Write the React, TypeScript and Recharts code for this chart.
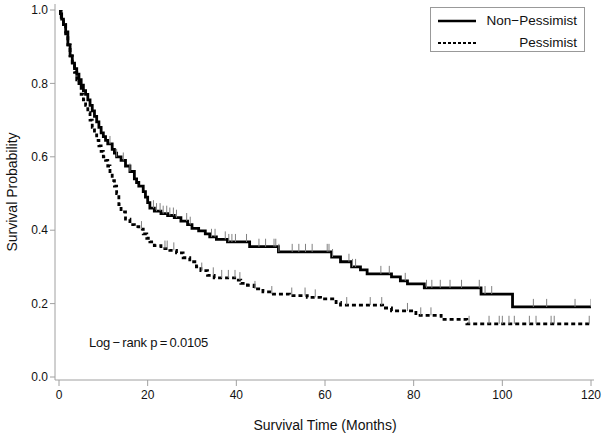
import React from 'react';
import { ComposedChart, Line, Scatter, XAxis, YAxis } from 'recharts';

const xTicks = [0, 20, 40, 60, 80, 100, 120];
const yTicks = [0, 0.2, 0.4, 0.6, 0.8, 1.0];

const nonPessimistTimes = [0, 0.3, 0.6, 1, 1.5, 2, 2.5, 3, 3.5, 4, 4.5, 5, 5.5, 6, 6.5, 7, 7.5, 8, 8.5, 9, 9.5, 10, 10.5, 11, 12, 12.5, 13, 14, 15, 16, 17, 17.5, 18, 19, 19.5, 20, 20.5, 21.5, 23, 24.5, 26, 27.5, 29, 30, 31.5, 33, 34, 35.5, 38, 43, 49.5, 61.5, 63.5, 66, 68, 69.5, 75, 77, 78.6, 82.4, 95.2, 102.3, 120];
const nonPessimistSurv = [1.0, 0.99, 0.975, 0.96, 0.94, 0.905, 0.875, 0.855, 0.84, 0.825, 0.81, 0.795, 0.78, 0.77, 0.755, 0.74, 0.725, 0.71, 0.695, 0.68, 0.665, 0.655, 0.645, 0.635, 0.62, 0.61, 0.6, 0.59, 0.575, 0.56, 0.54, 0.53, 0.52, 0.505, 0.49, 0.475, 0.46, 0.452, 0.445, 0.44, 0.434, 0.425, 0.415, 0.405, 0.398, 0.39, 0.382, 0.375, 0.368, 0.355, 0.341, 0.327, 0.314, 0.3, 0.292, 0.281, 0.273, 0.262, 0.254, 0.243, 0.226, 0.191, 0.191];

const pessimistTimes = [0, 0.5, 1, 1.5, 2, 2.5, 3, 3.5, 4, 4.5, 5, 5.5, 6, 6.5, 7, 7.5, 8, 8.5, 9, 9.5, 10, 10.5, 11, 11.5, 12, 12.5, 13, 13.5, 14, 15, 16, 17, 18, 19, 19.8, 20.5, 21.5, 23, 25, 26.5, 28, 29.5, 31, 32, 33.5, 35, 40, 41, 42.5, 44, 46, 48, 52, 56, 59, 62.5, 63.5, 73, 75, 80.5, 86.2, 92, 120];
const pessimistSurv = [1.0, 0.98, 0.96, 0.935, 0.905, 0.875, 0.85, 0.83, 0.81, 0.79, 0.77, 0.755, 0.74, 0.72, 0.7, 0.68, 0.66, 0.645, 0.63, 0.615, 0.6, 0.59, 0.575, 0.555, 0.535, 0.52, 0.5, 0.47, 0.45, 0.43, 0.415, 0.41, 0.403, 0.39, 0.378, 0.368, 0.358, 0.35, 0.345, 0.338, 0.325, 0.314, 0.3, 0.29, 0.277, 0.27, 0.264, 0.255, 0.25, 0.24, 0.232, 0.226, 0.222, 0.217, 0.213, 0.203, 0.196, 0.188, 0.18, 0.168, 0.157, 0.145, 0.145];

const nonPessimistCensor = [11.5, 13, 14.5, 16, 21.3, 22.0, 22.8, 23.5, 24.3, 25.0, 25.8, 26.5, 28.8, 29.6, 34.4, 35.2, 37.5, 38.3, 39.0, 39.8, 42.3, 45.1, 46.6, 48.5, 48.9, 49.6, 52.6, 54.1, 55.6, 57.1, 60.5, 60.9, 61.7, 65.4, 66.2, 66.9, 72.6, 74.5, 78.1, 82.9, 84.1, 86.0, 88.2, 90.8, 94.8, 96.1, 97.6, 107.0, 110.0, 116.4, 120.0];
const pessimistCensor = [18.6, 23.9, 24.4, 25.9, 32.2, 34.8, 36.7, 38.2, 39.7, 40.8, 44.2, 48.0, 52.5, 55.5, 57.8, 64.9, 70.2, 72.8, 78.6, 81.6, 83.9, 92.5, 97.0, 99.3, 100.0, 101.5, 102.7, 106.1, 107.6, 111.0, 111.7, 119.6];

const toRows = (times: number[], surv: number[]) => times.map((t, i) => ({ t, s: surv[i] }));
const stepAt = (times: number[], surv: number[], t: number) => {
  let v = surv[0];
  for (let i = 0; i < times.length; i++) {
    if (times[i] <= t) v = surv[i];
  }
  return v;
};

const nonPessimistData = toRows(nonPessimistTimes, nonPessimistSurv);
const pessimistData = toRows(pessimistTimes, pessimistSurv);
const nonPessimistCensorData = nonPessimistCensor.map((t) => ({ t, s: stepAt(nonPessimistTimes, nonPessimistSurv, t) }));
const pessimistCensorData = pessimistCensor.map((t) => ({ t, s: stepAt(pessimistTimes, pessimistSurv, t) }));

const FONT = '"Liberation Sans", Arial, Helvetica, sans-serif';

const CensorMark = (props: any) => {
  const { cx, cy } = props;
  if (cx == null || cy == null) return null;
  return <line x1={cx} y1={cy} x2={cx} y2={cy - 8} stroke="#808080" strokeWidth={1} />;
};

export default function App() {
  return (
    <div style={{ position: 'absolute', left: 0, top: 0, width: 604, height: 439, background: '#fff', fontFamily: FONT }}>
      <ComposedChart width={604} height={439} margin={{ top: 4, right: 10, bottom: 29, left: 15 }}>
        <XAxis
          dataKey="t"
          type="number"
          domain={[0, 120]}
          ticks={xTicks}
          padding={{ left: 4, right: 3 }}
          allowDataOverflow
          height={30}
          tickSize={6}
          tickMargin={4}
          axisLine={{ stroke: '#a0a0a0' }}
          tickLine={{ stroke: '#a0a0a0' }}
          tick={{ fill: '#111', fontSize: 12, fontFamily: FONT }}
        />
        <XAxis
          xAxisId="top"
          orientation="top"
          type="number"
          domain={[0, 120]}
          height={0}
          tick={false}
          tickLine={false}
          axisLine={{ stroke: '#a0a0a0' }}
        />
        <YAxis
          dataKey="s"
          type="number"
          domain={[0, 1]}
          ticks={yTicks}
          tickFormatter={(v: number) => v.toFixed(1)}
          padding={{ top: 6, bottom: 3 }}
          allowDataOverflow
          width={40}
          tickSize={5}
          tickMargin={2}
          axisLine={{ stroke: '#a0a0a0' }}
          tickLine={{ stroke: '#a0a0a0' }}
          tick={{ fill: '#111', fontSize: 12, fontFamily: FONT }}
        />
        <YAxis
          yAxisId="right"
          orientation="right"
          type="number"
          domain={[0, 1]}
          width={0}
          tick={false}
          tickLine={false}
          axisLine={{ stroke: '#a0a0a0' }}
        />
        <Scatter data={nonPessimistCensorData} dataKey="s" shape={CensorMark} isAnimationActive={false} />
        <Scatter data={pessimistCensorData} dataKey="s" shape={CensorMark} isAnimationActive={false} />
        <Line
          data={pessimistData}
          dataKey="s"
          type="stepAfter"
          stroke="#000"
          strokeWidth={2.8}
          strokeDasharray="4 3"
          dot={false}
          activeDot={false}
          isAnimationActive={false}
        />
        <Line
          data={nonPessimistData}
          dataKey="s"
          type="stepAfter"
          stroke="#000"
          strokeWidth={2.8}
          dot={false}
          activeDot={false}
          isAnimationActive={false}
        />
      </ComposedChart>

      <div
        style={{
          position: 'absolute', left: 430, top: 7, width: 155, height: 45,
          border: '1px solid #999', boxSizing: 'border-box', background: '#fff',
        }}
      >
        <svg width={155} height={45} style={{ position: 'absolute', left: 0, top: 0 }}>
          <line x1={7} y1={13} x2={45} y2={13} stroke="#000" strokeWidth={2.5} />
          <line x1={7} y1={35} x2={45} y2={35} stroke="#000" strokeWidth={2} strokeDasharray="3 2" />
        </svg>
        <div style={{ position: 'absolute', right: 7, top: 5, fontSize: 13.5, color: '#111', lineHeight: '16px', whiteSpace: 'nowrap' }}>Non−Pessimist</div>
        <div style={{ position: 'absolute', right: 7, top: 27, fontSize: 13.5, color: '#111', lineHeight: '16px', whiteSpace: 'nowrap' }}>Pessimist</div>
      </div>

      <div style={{ position: 'absolute', left: 89, top: 335, fontSize: 13, color: '#111', lineHeight: '16px', whiteSpace: 'nowrap', letterSpacing: -0.2 }}>
        Log{'\u2009'}−{'\u2009'}rank p{'\u2009'}={'\u2009'}0.0105
      </div>

      <div style={{ position: 'absolute', left: 0, width: 650, top: 417, textAlign: 'center', fontSize: 14, color: '#111', lineHeight: '16px' }}>
        Survival Time (Months)
      </div>

      <div
        style={{
          position: 'absolute', left: 12, top: 192, fontSize: 14, color: '#111', lineHeight: '16px',
          whiteSpace: 'nowrap', transform: 'translate(-50%, -50%) rotate(-90deg)',
        }}
      >
        Survival Probability
      </div>
    </div>
  );
}
